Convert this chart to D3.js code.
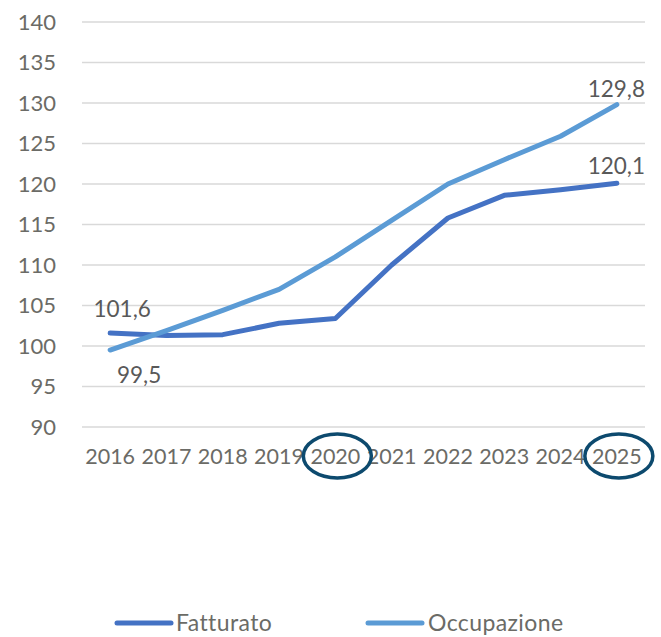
<!DOCTYPE html>
<html><head><meta charset="utf-8">
<script src="https://cdn.jsdelivr.net/npm/d3@7"></script>
<style>body{margin:0;background:#fff}svg{display:block}text{font-family:Lato,"Noto Sans",sans-serif}</style>
</head><body>
<svg id="c" width="661" height="637"></svg>
<script>
const years = ["2016","2017","2018","2019","2020","2021","2022","2023","2024","2025"];
const fatturato = [101.6,101.3,101.4,102.8,103.4,110.0,115.8,118.6,119.3,120.1];
const occupazione = [99.5,101.9,104.4,107.0,111.0,115.5,120.0,123.0,125.9,129.8];
const yTicks = [90,95,100,105,110,115,120,125,130,135,140];
const highlighted = ["2020","2025"];
const seriesNames = ["Fatturato","Occupazione"];
const colors = ["#4472c4","#5b9bd5"];

const svg = d3.select("#c");
const x = d3.scaleBand().domain(years).range([82,645]);
const y = d3.scaleLinear().domain([90,140]).range([427,22]);
const txt = "#6b6b66";

// gridlines
svg.append("g").selectAll("line").data(yTicks).join("line")
  .attr("x1",82).attr("x2",645).attr("y1",d=>y(d)).attr("y2",d=>y(d))
  .attr("stroke","#d9d9d9").attr("stroke-width",1.5);

// y axis
const ya = svg.append("g").attr("transform","translate(56,0)")
  .call(d3.axisLeft(y).tickValues(yTicks).tickSize(0).tickPadding(0).tickFormat(d3.format("d")));
ya.select(".domain").remove();
ya.selectAll("text").attr("font-size",22).attr("fill",txt).attr("font-family","Lato");

// x axis
const xa = svg.append("g").attr("transform","translate(0,464)")
  .call(d3.axisBottom(x).tickSize(0).tickPadding(0));
xa.select(".domain").remove();
xa.selectAll("text").attr("font-size",21.5).attr("fill",txt).attr("font-family","Lato").attr("dy","0").attr("y",0);

const cx = d => x(d)+x.bandwidth()/2;
const line = d3.line().x((d,i)=>cx(years[i])).y(d=>y(d));

[fatturato,occupazione].forEach((s,k)=>{
  svg.append("path").datum(s).attr("d",line).attr("fill","none")
    .attr("stroke",colors[k]).attr("stroke-width",5).attr("stroke-linecap","round").attr("stroke-linejoin","round");
});

const fmt = v => d3.format(".1f")(v).replace(".",",");
const lab = (t,xx,yy,anchor)=>svg.append("text").attr("x",xx).attr("y",yy).attr("text-anchor",anchor)
  .attr("font-size",22.5).attr("fill","#595959").text(t);
lab(fmt(fatturato[0]), cx(years[0])+12, y(fatturato[0])-16, "middle");
lab(fmt(occupazione[0]), cx(years[0])+29, y(occupazione[0])+33, "middle");
lab(fmt(fatturato[9]), 645, y(fatturato[9])-9, "end");
lab(fmt(occupazione[9]), 645, y(occupazione[9])-8, "end");

// ellipses
svg.append("g").selectAll("ellipse").data(highlighted).join("ellipse")
  .attr("cx",d=>cx(d)+2).attr("cy",456).attr("rx",34).attr("ry",22)
  .attr("fill","none").attr("stroke","#0d4a6e").attr("stroke-width",3.5);

// legend
const lg = svg.append("g");
[[117,176],[368,428]].forEach((p,k)=>{
  lg.append("line").attr("x1",p[0]).attr("x2",p[0]+54).attr("y1",623).attr("y2",623)
    .attr("stroke",colors[k]).attr("stroke-width",5).attr("stroke-linecap","round");
  lg.append("text").attr("x",p[1]).attr("y",631).attr("font-size",23).attr("letter-spacing",0.4).attr("fill",txt).text(seriesNames[k]);
});
</script>
</body></html>
